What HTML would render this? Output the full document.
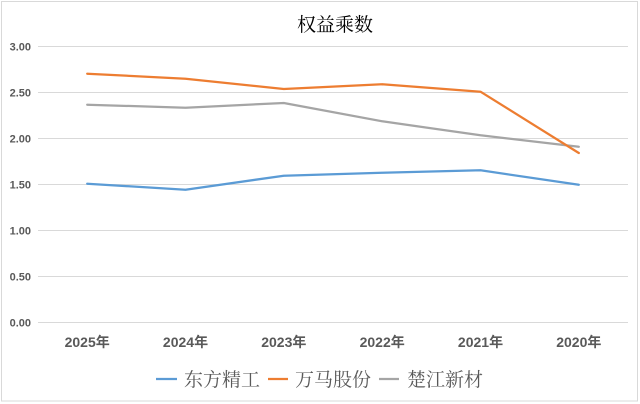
<!DOCTYPE html>
<html><head><meta charset="utf-8"><style>
html,body{margin:0;padding:0;background:#fff;}
svg{display:block;}
</style></head><body>
<svg width="640" height="404" viewBox="0 0 640 404" xmlns="http://www.w3.org/2000/svg">
<rect x="0" y="0" width="640" height="404" fill="#fff"/>
<rect x="1.5" y="1.5" width="636" height="399.5" fill="#fff" stroke="#d9d9d9" stroke-width="1"/>
<text x="335" y="31" text-anchor="middle" font-family="'Liberation Serif','Noto Serif CJK SC',serif" font-size="19" fill="#000">权益乘数</text>
<g stroke="#d9d9d9" stroke-width="1">
<line x1="38" y1="46.5" x2="628" y2="46.5"/>
<line x1="38" y1="92.5" x2="628" y2="92.5"/>
<line x1="38" y1="138.5" x2="628" y2="138.5"/>
<line x1="38" y1="184.5" x2="628" y2="184.5"/>
<line x1="38" y1="230.5" x2="628" y2="230.5"/>
<line x1="38" y1="276.5" x2="628" y2="276.5"/>
<line x1="38" y1="322.5" x2="628" y2="322.5"/>
</g>
<g font-family="'Liberation Sans',sans-serif" font-size="11" font-weight="bold" fill="#595959" text-anchor="end">
<text x="31" y="50.5">3.00</text>
<text x="31" y="96.5">2.50</text>
<text x="31" y="142.5">2.00</text>
<text x="31" y="188.5">1.50</text>
<text x="31" y="234.5">1.00</text>
<text x="31" y="280.5">0.50</text>
<text x="31" y="326.5">0.00</text>
</g>
<g font-family="'Liberation Sans','Noto Sans CJK SC',sans-serif" font-size="14" font-weight="bold" fill="#595959" text-anchor="middle">
<text x="87.2" y="347">2025年</text>
<text x="185.5" y="347">2024年</text>
<text x="283.8" y="347">2023年</text>
<text x="382.2" y="347">2022年</text>
<text x="480.5" y="347">2021年</text>
<text x="578.8" y="347">2020年</text>
</g>
<g fill="none" stroke-width="2.25" stroke-linejoin="round" stroke-linecap="round">
<polyline stroke="#A5A5A5" points="87.2,104.7 185.5,107.7 283.8,103 382.2,121.3 480.5,135.3 578.8,146.7"/>
<polyline stroke="#ED7D31" points="87.2,73.7 185.5,78.7 283.8,89 382.2,84.3 480.5,91.7 578.8,153"/>
<polyline stroke="#5B9BD5" points="87.2,183.7 185.5,189.7 283.8,175.7 382.2,172.7 480.5,170.3 578.8,184.7"/>
</g>
<g stroke-width="2.25">
<line x1="156" y1="379" x2="177" y2="379" stroke="#5B9BD5"/>
<line x1="268" y1="379" x2="288" y2="379" stroke="#ED7D31"/>
<line x1="379" y1="379" x2="399" y2="379" stroke="#A5A5A5"/>
</g>
<g font-family="'Liberation Serif','Noto Serif CJK SC',serif" font-size="19" fill="#595959">
<text x="184" y="386">东方精工</text>
<text x="295" y="386">万马股份</text>
<text x="407" y="386">楚江新材</text>
</g>
</svg>
</body></html>
